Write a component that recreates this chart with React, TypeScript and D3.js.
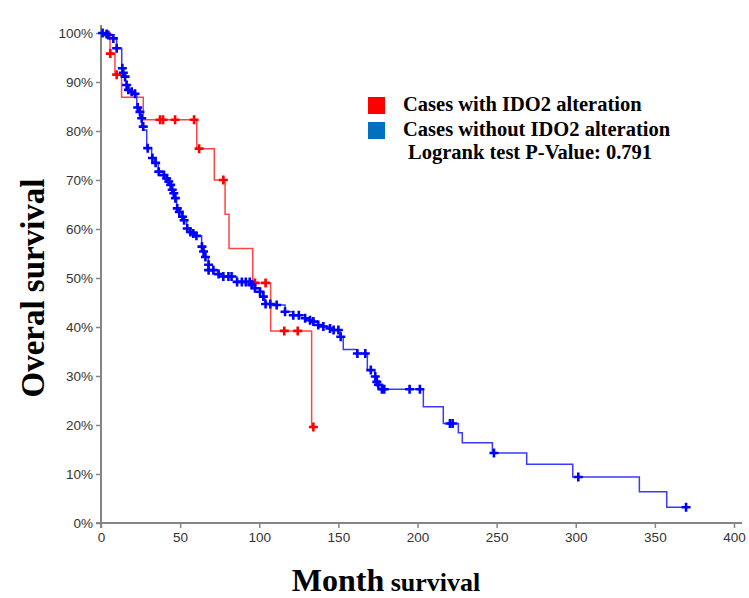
import React, { useEffect, useRef } from 'react';
import * as d3 from 'd3';

// Kaplan-Meier steps: [month, survival %]
const alteredSteps: [number, number][] = [
  [0, 100], [5.7, 95.8], [8.8, 91.5], [13, 86.9], [26.7, 82.3], [60.5, 76.4],
  [71.6, 70.0], [78.4, 63.0], [80.9, 56.0], [95.9, 49.0], [107.2, 39.2],
  [133.1, 19.6], [134.2, 19.6],
];
const alteredCensored: [number, number][] = [
  [5.9, 95.8], [9.9, 91.5], [37.3, 82.3], [39.2, 82.3], [46.8, 82.3], [58.8, 82.3],
  [62, 76.4], [77.3, 70.0], [97.3, 49.0], [104, 49.0], [115.8, 39.2], [124.3, 39.2],
  [134.2, 19.6],
];

const unalteredSteps: [number, number][] = [
  [0, 100], [2.5, 99.9], [4.6, 99.6], [7.8, 98.9], [9.9, 96.9], [13.1, 92.8],
  [13.7, 91.9], [14.1, 91.1], [15.2, 90.1], [16.2, 89.4], [17.3, 88.4], [19.4, 88.0],
  [20.4, 87.6], [22.6, 84.8], [23.6, 83.9], [24.6, 82.6], [25.7, 80.9], [26.7, 80.2],
  [28.9, 76.5], [32.0, 74.5], [34.1, 73.5], [36.2, 71.7], [39.4, 71.0], [41.5, 70.3],
  [42.5, 69.7], [43.6, 69.0], [44.7, 68.0], [45.7, 67.3], [46.8, 66.3], [47.8, 64.2],
  [48.8, 63.5], [51.0, 62.5], [52.0, 61.8], [54.2, 60.1], [56.2, 59.4], [58.3, 59.1],
  [60.0, 58.6], [63.6, 56.4], [64.6, 55.4], [65.7, 54.3], [67.8, 51.6], [74.1, 50.8],
  [77.3, 50.3], [85.8, 49.2], [95.2, 48.6], [97.3, 47.9], [100.5, 47.2], [102.6, 46.2],
  [103.6, 44.7], [111.0, 44.5], [116.3, 43.1], [121.5, 42.4], [128.9, 41.8], [132.1, 41.4],
  [134.2, 41.1], [137.3, 40.4], [140.5, 40.1], [144.7, 39.7], [146.8, 39.4], [151.1, 38.0],
  [153.1, 35.4], [161.6, 34.6], [168.3, 31.2], [173.1, 29.9], [174.2, 28.8], [175.2, 28.2],
  [178.0, 27.3], [203.7, 23.7], [216.3, 20.3], [225.8, 18.4], [228.3, 16.4], [247.3, 14.3],
  [269.0, 12.0], [298.1, 9.4], [340.2, 6.4], [357.5, 3.2], [369.7, 3.2],
];
const unalteredCensored: [number, number][] = [
  [1, 100], [3.5, 99.8], [4.6, 99.6], [7.8, 98.9], [9.9, 96.9], [13.5, 92.8], [14.1, 91.9],
  [15.2, 91.1], [16.2, 89.4], [17.3, 88.4], [19.4, 88.0], [21.5, 87.6], [23.2, 84.8],
  [24.6, 83.9], [25.7, 82.6], [26.7, 80.9], [29.5, 76.5], [32.5, 74.5], [34.5, 73.5],
  [36.5, 71.7], [39.8, 71.0], [41.5, 70.3], [42.8, 69.7], [44, 69.0], [45, 68.0], [46, 67.3],
  [47, 66.3], [48.2, 64.2], [49.5, 63.5], [51.5, 62.5], [52.5, 61.8], [54.5, 60.1],
  [56.5, 59.4], [58.3, 59.1], [60.3, 58.6], [63.8, 56.4], [64.8, 55.4], [66, 54.3],
  [68, 52.7], [68, 51.6], [71, 51.6], [74.3, 50.8], [77.3, 50.3], [80.5, 50.3], [82.5, 50.3],
  [86, 49.2], [89, 49.2], [91.5, 49.2], [94, 49.2], [95.3, 48.6], [97.3, 47.9], [100.5, 47.2],
  [102.6, 46.2], [104, 44.7], [107, 44.7], [111, 44.5], [116.3, 43.1], [121.5, 42.4],
  [125, 42.4], [129, 41.8], [132.1, 41.4], [134.2, 41.1], [137.3, 40.4], [140.5, 40.1],
  [144.7, 39.7], [147, 39.4], [150, 39.4], [151.5, 38.0], [162, 34.6], [167, 34.6],
  [170.5, 31.2], [173.3, 29.9], [174.3, 28.8], [175.3, 28.2], [177.5, 27.3], [179, 27.3],
  [195, 27.3], [201.5, 27.3], [220.5, 20.3], [222.2, 20.3], [248.3, 14.3], [301.6, 9.4],
  [369.7, 3.2],
];

const xTicks = [0, 50, 100, 150, 200, 250, 300, 350, 400];
const yTicks = [0, 10, 20, 30, 40, 50, 60, 70, 80, 90, 100];
const legendLabels = ['Cases with IDO2 alteration', 'Cases without IDO2 alteration'];
const legendColors = ['#ff0000', '#0070c0'];
const pValueLabel = 'Logrank test P-Value: 0.791';

export default function App() {
  const ref = useRef<SVGSVGElement>(null);

  useEffect(() => {
    const svg = d3.select(ref.current);
    svg.selectAll('*').remove();

    const x = d3.scaleLinear().domain([0, 400]).range([101, 734]);
    const y = d3.scaleLinear().domain([0, 100]).range([523, 33]);
    const axisColor = '#858585';
    const tickFont = '"Liberation Sans", Arial, sans-serif';

    // y axis
    const gy = svg.append('g')
      .attr('transform', `translate(${x(0)},0)`)
      .call(d3.axisLeft(y).tickValues(yTicks).tickSize(5).tickSizeOuter(0).tickPadding(3)
        .tickFormat((d) => `${d}%`));
    gy.select('.domain').remove();
    gy.selectAll('line').attr('stroke', axisColor).attr('stroke-width', 1.5);
    gy.selectAll('text').attr('font-family', tickFont).attr('font-size', 13.5).attr('fill', '#333');

    // x axis
    const gx = svg.append('g')
      .attr('transform', `translate(0,${y(0)})`)
      .call(d3.axisBottom(x).tickValues(xTicks).tickSize(5).tickSizeOuter(0).tickPadding(4));
    gx.select('.domain').remove();
    gx.selectAll('line').attr('stroke', axisColor).attr('stroke-width', 1.5);
    gx.selectAll('text').attr('font-family', tickFont).attr('font-size', 13.5).attr('fill', '#333');

    svg.append('line')
      .attr('x1', x(0)).attr('x2', x(0)).attr('y1', 25).attr('y2', y(0) + 5)
      .attr('stroke', axisColor).attr('stroke-width', 2);
    svg.append('line')
      .attr('x1', x(0) - 5).attr('x2', 742).attr('y1', y(0)).attr('y2', y(0))
      .attr('stroke', axisColor).attr('stroke-width', 2);

    const line = d3.line<[number, number]>()
      .x((d) => x(d[0]))
      .y((d) => y(d[1]))
      .curve(d3.curveStepAfter);

    const cross = 'M-4.5,0H4.5M0,-4.5V4.5';

    function drawSeries(steps: [number, number][], censored: [number, number][], lineColor: string, markColor: string) {
      svg.append('path')
        .attr('d', line(steps))
        .attr('fill', 'none')
        .attr('stroke', lineColor)
        .attr('stroke-width', 1.5);
      svg.append('g').selectAll('path')
        .data(censored)
        .enter()
        .append('path')
          .attr('d', cross)
          .attr('transform', (d) => `translate(${x(d[0])},${y(d[1])})`)
          .attr('stroke', markColor)
          .attr('stroke-width', 2.6)
          .attr('fill', 'none');
    }

    drawSeries(alteredSteps, alteredCensored, '#ff4545', '#ff0000');
    drawSeries(unalteredSteps, unalteredCensored, '#3a3aff', '#0000ff');

    // legend
    const serif = '"Liberation Serif", "Times New Roman", serif';
    legendLabels.forEach((label, i) => {
      svg.append('rect')
        .attr('x', 368).attr('y', 97 + i * 25).attr('width', 17).attr('height', 17)
        .attr('fill', legendColors[i]);
      svg.append('text')
        .attr('x', 403).attr('y', 111 + i * 24.5)
        .attr('font-family', serif).attr('font-weight', 'bold').attr('font-size', 20.5)
        .attr('fill', '#000')
        .text(label);
    });
    svg.append('text')
      .attr('x', 408).attr('y', 159)
      .attr('font-family', serif).attr('font-weight', 'bold').attr('font-size', 20.5)
      .attr('fill', '#000')
      .text(pValueLabel);

    // axis titles
    svg.append('text')
      .attr('transform', 'translate(44,288) rotate(-90)')
      .attr('text-anchor', 'middle')
      .attr('font-family', serif).attr('font-weight', 'bold').attr('font-size', 33)
      .text('Overal survival');

    const xt = svg.append('text')
      .attr('x', 386).attr('y', 591)
      .attr('text-anchor', 'middle')
      .attr('font-family', serif).attr('font-weight', 'bold');
    xt.append('tspan').attr('font-size', 32).text('Month');
    xt.append('tspan').attr('font-size', 26).text(' survival');
  }, []);

  return (
    <svg
      ref={ref}
      width={749}
      height={598}
      style={{ position: 'absolute', left: 0, top: 0, background: '#fff' }}
    />
  );
}
